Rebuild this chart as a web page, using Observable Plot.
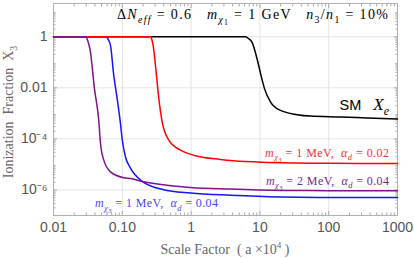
<!DOCTYPE html>
<html><head><meta charset="utf-8">
<script src="https://cdn.jsdelivr.net/npm/d3@7"></script>
<script src="https://cdn.jsdelivr.net/npm/@observablehq/plot@0.6"></script>
<style>body{margin:0;background:#fff} svg{display:block} text{white-space:pre}</style>
</head><body><div id="chart"></div>
<script>
// ---- data ----
const smA = [0.01, 6.2, 6.8, 7.7, 9.1, 10.4, 11.7, 14.3, 19.9, 34.8, 54.3, 148, 363, 1000];
const smX = [1, 1, 0.85, 0.6, 0.135, 0.030, 0.0091, 0.00275, 0.0013, 0.00089, 0.00078, 0.00072, 0.00066, 0.0006];

const redA = [0.01, 0.257, 0.268, 0.281, 0.314, 0.34, 0.38, 0.474, 0.70, 1.09, 2.67, 4.13, 12.9, 100, 1000];
const redX = [1, 1, 0.8, 0.45, 0.030, 0.0037, 0.00046, 8.9e-5, 3.6e-5, 2.3e-5, 1.56e-5, 1.38e-5, 1.2e-5, 1.1e-5, 1.08e-5];

const blueA = [0.01, 0.0589, 0.062, 0.0674, 0.0752, 0.0843, 0.094, 0.1, 0.111, 0.1316, 0.1945, 0.397, 0.98, 3.74, 19.9, 100, 1000];
const blueX = [1, 1, 0.8, 0.45, 0.030, 0.0037, 0.0004, 8.9e-5, 2.0e-5, 7.1e-6, 2.16e-6, 1.02e-6, 7.6e-7, 6.2e-7, 5.3e-7, 5.1e-7, 5.1e-7];

const purpleA = [0.01, 0.029, 0.0315, 0.0345, 0.0394, 0.0455, 0.0482, 0.0538, 0.0674, 0.105, 0.1316, 0.1945, 0.98, 3.74, 19.9, 100, 1000];
const purpleX = [1, 1, 0.7, 0.245, 0.0091, 0.00053, 6.6e-5, 1.47e-5, 5.1e-6, 3.0e-6, 2.8e-6, 2.16e-6, 1.26e-6, 1.08e-6, 9.6e-7, 9.4e-7, 9.3e-7];

const xTicks = [0.01, 0.1, 1, 10, 100, 1000];
const xTickLabels = ["0.01", "0.10", "1", "10", "100", "1000"];
const yTicks = [1e-6, 1e-4, 0.01, 1];
const yTickLabels = ["10\u207B\u2076", "10\u207B\u2074", "0.01", "1"];

const xMinor = [];
for (const d of [0.01, 0.1, 1, 10, 100]) for (let k = 2; k <= 9; k++) xMinor.push(d * k);
const yMinor = [];
for (const d of [1e-7, 1e-6, 1e-5, 1e-4, 1e-3, 0.01, 0.1, 1, 10]) for (let k = 2; k <= 9; k++) if (d * k <= 20) yMinor.push(d * k);

const topText = [["\u0394",""],["N","i"],["eff","subi"],[" = 0.6   ",""],["m","i"],["\u03C7","subi"],["1","subsub"],[" = 1 GeV   ",""],["n","i"],["3","sub"],["/",""],["n","i"],["1","sub"],[" = 10%",""]];
const redText = [["m","i"],["\u03C7","subi"],["3","subsub"],[" = 1 MeV,  ",""],["\u03B1","i"],["d","subi"],[" = 0.02",""]];
const purpleText = [["m","i"],["\u03C7","subi"],["3","subsub"],[" = 2 MeV,  ",""],["\u03B1","i"],["d","subi"],[" = 0.04",""]];
const blueText = [["m","i"],["\u03C7","subi"],["3","subsub"],[" = 1 MeV,  ",""],["\u03B1","i"],["d","subi"],[" = 0.04",""]];
const smText = [["SM","sans"],["   ","sans"],["X","i"],["e","subi"]];

const annotations = [
  {a: 0.0851, X: 4.6, anchor: "start", parts: topText, color: "#000", size: 14, len: 271},
  {a: 766, X: 1.3e-3, anchor: "end", parts: smText, color: "#000", size: 17, len: null},
  {a: 766, X: 1.92e-5, anchor: "end", parts: redText, color: "rgb(238,52,64)", size: 12, len: 124},
  {a: 766, X: 1.55e-6, anchor: "end", parts: purpleText, color: "rgb(118,40,140)", size: 12, len: 123},
  {a: 0.0408, X: 1.97e-7, anchor: "start", parts: blueText, color: "rgb(72,72,245)", size: 12, len: 123}
];

const rows = (xs, ys) => xs.map((a, i) => ({a, X: ys[i]}));
const serif = "'Liberation Serif', 'Times New Roman', serif";
const sans = "'Liberation Sans', Arial, sans-serif";

const plot = Plot.plot({
  width: 414, height: 258,
  marginLeft: 53, marginRight: 17, marginTop: 3, marginBottom: 43,
  style: {background: "#fff", fontFamily: sans, fontSize: "14px", color: "#555"},
  x: {type: "log", domain: [0.01, 1000]},
  y: {type: "log", domain: [1e-7, 20]},
  marks: [
    Plot.gridX(xTicks.slice(1, -1), {stroke: "#e4e4e4", strokeOpacity: 1}),
    Plot.gridY(yTicks, {stroke: "#e4e4e4", strokeOpacity: 1}),
    Plot.axisX(xTicks, {anchor: "bottom", tickSize: 0, tickPadding: 7, tickFormat: d => xTickLabels[xTicks.indexOf(d)], label: null, fill: "#555"}),
    Plot.axisY(yTicks, {anchor: "left", tickSize: 0, tickPadding: 6, tickFormat: d => yTickLabels[yTicks.indexOf(d)], label: null, fill: "#555"}),
    Plot.axisX(xMinor, {anchor: "bottom", tickSize: -2.5, tickFormat: () => "", label: null, stroke: "#aaa"}),
    Plot.axisX(xMinor, {anchor: "top", tickSize: -2.5, tickFormat: () => "", label: null, stroke: "#aaa"}),
    Plot.axisX(xTicks, {anchor: "bottom", tickSize: -4, tickFormat: () => "", label: null, stroke: "#aaa"}),
    Plot.axisX(xTicks, {anchor: "top", tickSize: -4, tickFormat: () => "", label: null, stroke: "#aaa"}),
    Plot.axisY(yMinor, {anchor: "left", tickSize: -2.5, tickFormat: () => "", label: null, stroke: "#aaa"}),
    Plot.axisY(yMinor, {anchor: "right", tickSize: -2.5, tickFormat: () => "", label: null, stroke: "#aaa"}),
    Plot.axisY(yTicks, {anchor: "left", tickSize: -4, tickFormat: () => "", label: null, stroke: "#aaa"}),
    Plot.axisY(yTicks, {anchor: "right", tickSize: -4, tickFormat: () => "", label: null, stroke: "#aaa"}),
    Plot.frame({stroke: "#b0b0b0"}),
    Plot.line(rows(smA, smX), {x: "a", y: "X", stroke: "#000", strokeWidth: 1.5, curve: "monotone-x"}),
    Plot.line(rows(blueA, blueX), {x: "a", y: "X", stroke: "#1414ff", strokeWidth: 1.5, curve: "monotone-x"}),
    Plot.line(rows(redA, redX), {x: "a", y: "X", stroke: "#ff0000", strokeWidth: 1.5, curve: "monotone-x"}),
    Plot.line(rows(purpleA, purpleX), {x: "a", y: "X", stroke: "#7f1488", strokeWidth: 1.5, curve: "monotone-x"})
  ]
});

function rich(sel, parts, size) {
  let shift = 0;
  for (const [t, k] of parts) {
    const target = (k === "sub" || k === "subi") ? 0.28 * size : k === "subsub" ? 0.42 * size : k === "sup" ? -0.4 * size : 0;
    const ts = sel.append("tspan").text(t).attr("dy", target - shift);
    shift = target;
    if (k === "sub" || k === "subi") ts.attr("font-size", size * 0.7);
    if (k === "subsub") ts.attr("font-size", size * 0.55);
    if (k === "sup") ts.attr("font-size", size * 0.65);
    if (k === "i" || k === "subi") ts.attr("font-style", "italic");
    if (k === "sans") ts.attr("font-family", sans).attr("font-size", 14.5);
  }
}

const svg = d3.select(plot);
const sx = plot.scale("x"), sy = plot.scale("y");
for (const an of annotations) {
  const t = svg.append("text")
    .attr("x", sx.apply(an.a)).attr("y", sy.apply(an.X))
    .attr("text-anchor", an.anchor).attr("font-family", serif)
    .attr("font-size", an.size).attr("fill", an.color);
  if (an.len) t.attr("textLength", an.len).attr("lengthAdjust", "spacing");
  rich(t, an.parts, an.size);
}
// axis titles
const xl = svg.append("text").attr("x", (53 + 397) / 2).attr("y", 254)
  .attr("text-anchor", "middle").attr("font-family", serif).attr("font-size", 14).attr("fill", "#666");
rich(xl, [["Scale Factor  ( a \u00D710",""],["4","sup"],[" )",""]], 14);
const yl = svg.append("text").attr("transform", "translate(13,112) rotate(-90)")
  .attr("text-anchor", "middle").attr("font-family", serif).attr("font-size", 14).attr("fill", "#666");
rich(yl, [["Ionization  Fraction  X",""],["3","sub"]], 14);

document.getElementById("chart").append(plot);
</script>
</body></html>
